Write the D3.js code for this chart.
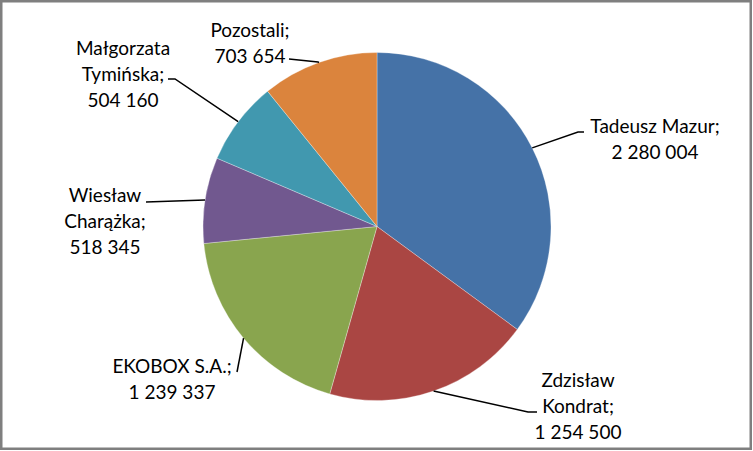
<!DOCTYPE html>
<html>
<head>
<meta charset="utf-8">
<script src="https://cdn.jsdelivr.net/npm/d3@7"></script>
<style>
  body { margin: 0; background: #fff; }
  svg text { font-family: Lato, "Open Sans", sans-serif; font-size: 19px; fill: #000; }
</style>
</head>
<body>
<div id="chart"></div>
<script>
// data
const names = ["Tadeusz Mazur", "Zdzisław Kondrat", "EKOBOX S.A.", "Wiesław Charążka", "Małgorzata Tymińska", "Pozostali"];
const values = [2280004, 1254500, 1239337, 518345, 504160, 703654];
const labelLines = [
  ["Tadeusz Mazur;", "2 280 004"],
  ["Zdzisław", "Kondrat;", "1 254 500"],
  ["EKOBOX S.A.;", "1 239 337"],
  ["Wiesław", "Charążka;", "518 345"],
  ["Małgorzata", "Tymińska;", "504 160"],
  ["Pozostali;", "703 654"]
];
const colors = ["#4572A7", "#AA4643", "#89A54E", "#71588F", "#4198AF", "#DB843D"];

// label layout: text block centre, elbow of leader line, end of leader line
const labelPos = [
  { cx: 655, cy: 126, elbow: [578, 132], end: [584, 132] },
  { cx: 578, cy: 380, elbow: [528, 412], end: [537, 412] },
  { cx: 172, cy: 366, elbow: [237, 372], end: [237, 372] },
  { cx: 105, cy: 195, elbow: [146, 202], end: [146, 202] },
  { cx: 123, cy: 48, elbow: [175, 79], end: [168, 79] },
  { cx: 250, cy: 30, elbow: [318, 62], end: [289, 59] }
];

const width = 753, height = 451;
const cx = 377, cy = 226.5, radius = 174;
const lineH = 26;

const svg = d3.select("#chart").append("svg")
  .attr("width", width)
  .attr("height", height);

svg.append("rect")
  .attr("x", 1.25).attr("y", 1.25)
  .attr("width", 749.5).attr("height", 447.5)
  .attr("fill", "#fff")
  .attr("stroke", "#7f7f7f")
  .attr("stroke-width", 2.5);

const pie = d3.pie().sort(null).value(d => d);
const arcs = pie(values);
const arc = d3.arc().innerRadius(0).outerRadius(radius);

const g = svg.append("g").attr("transform", `translate(${cx},${cy})`);

g.selectAll("path.slice").data(arcs).enter().append("path")
  .attr("class", "slice")
  .attr("d", arc)
  .attr("fill", (d, i) => colors[i])
  .attr("stroke", "#ffffff")
  .attr("stroke-opacity", 0.5)
  .attr("stroke-width", 0.6);

// leader lines from slice edge to label
const edge = d => {
  const a = (d.startAngle + d.endAngle) / 2;
  return [cx + radius * Math.sin(a), cy - radius * Math.cos(a)];
};

svg.selectAll("path.leader").data(arcs).enter().append("path")
  .attr("class", "leader")
  .attr("d", (d, i) => d3.line()([edge(d), labelPos[i].elbow, labelPos[i].end]))
  .attr("fill", "none")
  .attr("stroke", "#000")
  .attr("stroke-width", 1.5);

const labels = svg.selectAll("text.label").data(labelLines).enter().append("text")
  .attr("class", "label")
  .attr("text-anchor", "middle");

labels.each(function(lines, i) {
  const t = d3.select(this);
  lines.forEach((s, k) => {
    t.append("tspan")
      .attr("x", labelPos[i].cx)
      .attr("y", labelPos[i].cy + k * lineH)
      .attr("dy", "0.35em")
      .text(s);
  });
});
</script>
</body>
</html>
